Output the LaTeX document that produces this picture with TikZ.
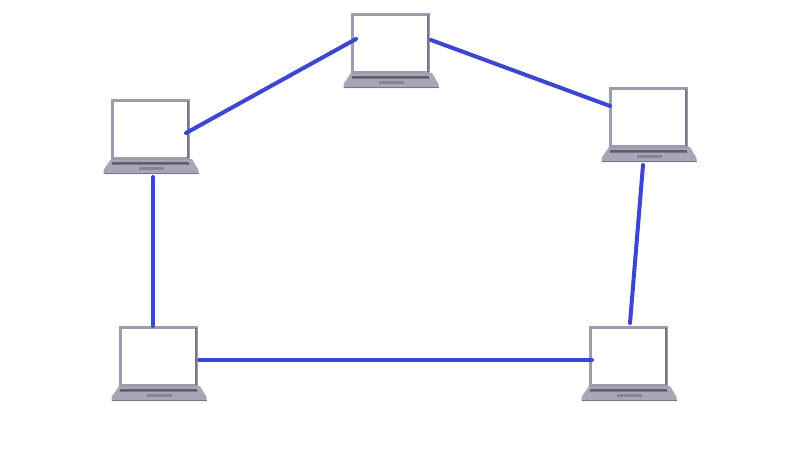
\documentclass[tikz,border=0pt]{standalone}
\definecolor{frameC}{HTML}{9C9CAC}
\definecolor{frameD}{HTML}{77778A}
\definecolor{baseC}{HTML}{A6A6B6}
\definecolor{keyC}{HTML}{5E5E6A}
\definecolor{padC}{HTML}{858594}
\definecolor{linkC}{HTML}{3C46D2}
\tikzset{
  x=1pt,y=-1pt,
  link/.style={draw=linkC,line width=4pt,line cap=round},
  laptop/.pic={
    \fill[baseC] (-0.5,60) -- (80.5,60) -- (87,71) -- (87,75) -- (-8,75) -- (-8,71) -- cycle;
    \fill[frameC] (-0.5,0) rectangle (78.5,61);
    \fill[frameD] (75.5,2) rectangle (77,59);
    \fill[white] (2.5,2.5) rectangle (75.5,57.5);
    \fill[keyC] (1,63) -- (77,63) -- (78,65.5) -- (0,65.5) -- cycle;
    \fill[padC] (27,68) rectangle (52,71);
    \fill[frameD] (-8,74) rectangle (87,75);
  }
}
\begin{document}
\begin{tikzpicture}
\useasboundingbox (0,0) rectangle (800,450);
\pic at (351.5,13) {laptop};
\pic at (111.5,99) {laptop};
\pic at (609.5,87) {laptop};
\pic at (119.5,326) {laptop};
\pic at (589.5,326) {laptop};
\coordinate (tl) at (356,39);
\coordinate (tr) at (431,40);
\coordinate (lt) at (186,133);
\coordinate (lb) at (153,177);
\coordinate (rl) at (610,106);
\coordinate (rb) at (643,165);
\coordinate (blt) at (153,326);
\coordinate (blr) at (199,360);
\coordinate (brl) at (592,360);
\coordinate (brt) at (630,323);
\draw[link] (lt) -- (tl);
\draw[link] (tr) -- (rl);
\draw[link] (rb) -- (brt);
\draw[link] (blr) -- (brl);
\draw[link] (lb) -- (blt);
\end{tikzpicture}
\end{document}
